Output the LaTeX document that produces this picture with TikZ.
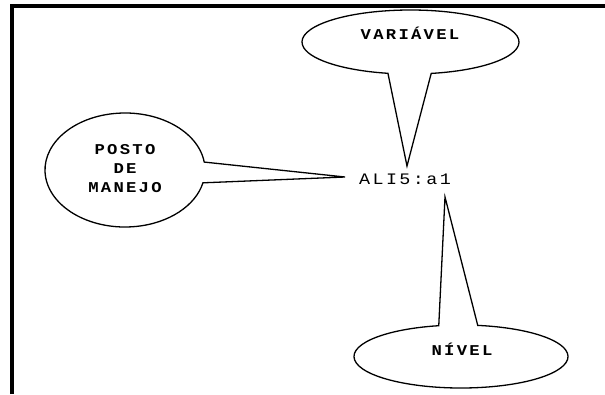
\documentclass[tikz,border=0pt]{standalone}
\usepackage{fontspec}
\newfontfamily\balloonfont{Liberation Mono}[FakeStretch=1.15,LetterSpace=15]
\usetikzlibrary{calc, positioning}
\tikzset{callout/.style={draw,line width=1.3pt,line join=miter}}
\tikzset{balloontext/.style={font=\balloonfont\bfseries\fontsize{15}{19}\selectfont,align=center,inner sep=0pt}}
\tikzset{target/.style={font=\balloonfont\fontsize{16}{18}\selectfont,inner sep=0pt}}

\begin{document}
\begin{tikzpicture}[x=1pt,y=1pt]
\useasboundingbox (0,0) rectangle (605,-394);

% Frame
\draw[line width=4pt,line join=miter] (12,-394) -- (12,-6) -- (605,-6);

% Centre of the balloons
\coordinate (cvar) at (410.5,-42);
\coordinate (cposto) at (125,-170);
\coordinate (cnivel) at (461,-356.5);

% Tips of the tails
\coordinate (tvar) at (407,-166);
\coordinate (tposto) at (345,-177);
\coordinate (tnivel) at (445,-197);

% Add some text
\node[target] (alvo) at (405,-179) {ALI5:a1};
\node[balloontext] (var) at (410,-33) {VARIÁVEL};
\node[balloontext] (posto) at (125,-169) {POSTO\\DE\\MANEJO};
\node[balloontext] (nivel) at (462,-349) {NÍVEL};

% Define balloons
\draw[callout] ($(cvar)+(-79:108.5 and 32)$)
  arc[start angle=-79,end angle=258,x radius=108.5,y radius=32] -- (tvar) -- cycle;
\draw[callout] ($(cposto)+(8:80 and 57)$)
  arc[start angle=8,end angle=347,x radius=80,y radius=57] -- (tposto) -- cycle;
\draw[callout] ($(cnivel)+(102:107 and 31.5)$)
  arc[start angle=102,end angle=441,x radius=107,y radius=31.5] -- (tnivel) -- cycle;
\end{tikzpicture}
\end{document}
